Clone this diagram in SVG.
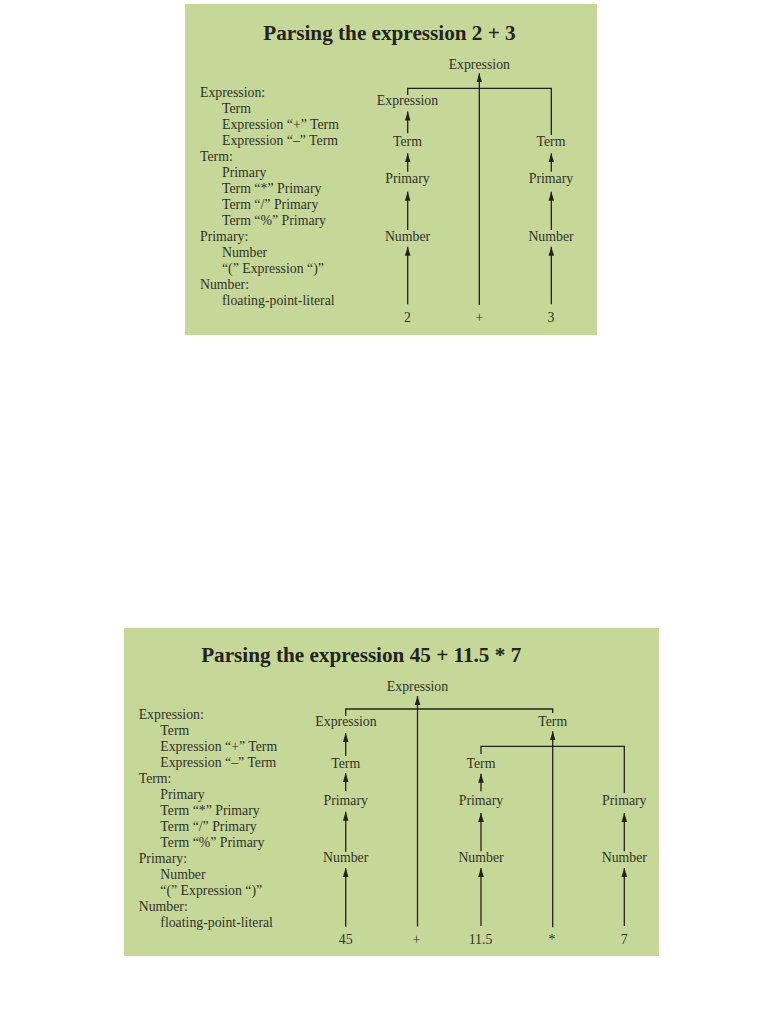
<svg xmlns="http://www.w3.org/2000/svg" width="782" height="1012" viewBox="0 0 782 1012">
<defs>
<style>
.panel{fill:#c6d898;}
.title{font-family:"Liberation Serif",serif;font-weight:bold;font-size:21.2px;fill:#232320;text-anchor:middle;}
.g{font-family:"Liberation Serif",serif;font-size:13.8px;fill:#30312a;}
.n{font-family:"Liberation Serif",serif;font-size:13.8px;fill:#30312a;text-anchor:middle;}
.c line,.c polyline{stroke:#222;stroke-width:1.3;fill:none;}
.c line.a{marker-end:url(#ah);}
</style>
<marker id="ah" markerUnits="userSpaceOnUse" markerWidth="10" markerHeight="7" refX="9" refY="3" orient="auto" viewBox="0 0 10 6">
<path d="M0,0.2 L9,3 L0,5.8 z" fill="#222"/>
</marker>
</defs>
<rect width="782" height="1012" fill="#ffffff"/>

<!-- ============ TOP PANEL ============ -->
<g id="panel1">
<rect class="panel" x="185" y="4" width="412" height="331"/>
<text class="title" x="389.5" y="40">Parsing the expression 2 + 3</text>
<g id="grammar1">
<text class="g" x="200" y="97.3">Expression:</text>
<text class="g" x="222" y="113.3">Term</text>
<text class="g" x="222" y="129.3">Expression “+” Term</text>
<text class="g" x="222" y="145.3">Expression “–” Term</text>
<text class="g" x="200" y="161.3">Term:</text>
<text class="g" x="222" y="177.3">Primary</text>
<text class="g" x="222" y="193.3">Term “*” Primary</text>
<text class="g" x="222" y="209.3">Term “/” Primary</text>
<text class="g" x="222" y="225.3">Term “%” Primary</text>
<text class="g" x="200" y="241.3">Primary:</text>
<text class="g" x="222" y="257.3">Number</text>
<text class="g" x="222" y="273.3">“(” Expression “)”</text>
<text class="g" x="200" y="289.3">Number:</text>
<text class="g" x="222" y="305.3">floating-point-literal</text>
</g>
<g id="t1-expr-root"><text class="n" x="479.3" y="69.3">Expression</text></g>
<g id="t1-expr"><text class="n" x="407.5" y="105">Expression</text></g>
<g id="t1-term-l"><text class="n" x="407.5" y="146">Term</text></g>
<g id="t1-term-r"><text class="n" x="551" y="146">Term</text></g>
<g id="t1-prim-l"><text class="n" x="407.5" y="183.3">Primary</text></g>
<g id="t1-prim-r"><text class="n" x="551" y="183.3">Primary</text></g>
<g id="t1-num-l"><text class="n" x="407.5" y="240.7">Number</text></g>
<g id="t1-num-r"><text class="n" x="551" y="240.7">Number</text></g>
<g id="t1-leaf-2"><text class="n" x="407.5" y="322.3">2</text></g>
<g id="t1-leaf-plus"><text class="n" x="479.3" y="322.3">+</text></g>
<g id="t1-leaf-3"><text class="n" x="551" y="322.3">3</text></g>
<g id="connectors1" class="c">
<line class="a" x1="479.3" y1="305" x2="479.3" y2="73.3"/>
<polyline points="407.7,95 407.7,88.3 551.3,88.3 551.3,135"/>
<line class="a" x1="407.7" y1="133.3" x2="407.7" y2="111.5"/>
<line class="a" x1="407.7" y1="171.7" x2="407.7" y2="153.3"/>
<line class="a" x1="407.7" y1="230" x2="407.7" y2="191.7"/>
<line class="a" x1="407.7" y1="304.3" x2="407.7" y2="246.7"/>
<line class="a" x1="551.3" y1="171.7" x2="551.3" y2="153.3"/>
<line class="a" x1="551.3" y1="230" x2="551.3" y2="191.7"/>
<line class="a" x1="551.3" y1="304.3" x2="551.3" y2="246.7"/>
</g>
</g>

<!-- ============ BOTTOM PANEL ============ -->
<g id="panel2">
<rect class="panel" x="124" y="628" width="535" height="328"/>
<text class="title" x="361.2" y="662.3">Parsing the expression 45 + 11.5 * 7</text>
<g id="grammar2">
<text class="g" x="138.7" y="718.7">Expression:</text>
<text class="g" x="160.3" y="734.7">Term</text>
<text class="g" x="160.3" y="750.7">Expression “+” Term</text>
<text class="g" x="160.3" y="766.7">Expression “–” Term</text>
<text class="g" x="138.7" y="782.7">Term:</text>
<text class="g" x="160.3" y="798.7">Primary</text>
<text class="g" x="160.3" y="814.7">Term “*” Primary</text>
<text class="g" x="160.3" y="830.7">Term “/” Primary</text>
<text class="g" x="160.3" y="846.7">Term “%” Primary</text>
<text class="g" x="138.7" y="862.7">Primary:</text>
<text class="g" x="160.3" y="878.7">Number</text>
<text class="g" x="160.3" y="894.7">“(” Expression “)”</text>
<text class="g" x="138.7" y="910.7">Number:</text>
<text class="g" x="160.3" y="926.7">floating-point-literal</text>
</g>
<g id="t2-expr-root"><text class="n" x="417.5" y="690.7">Expression</text></g>
<g id="t2-expr"><text class="n" x="346" y="726.3">Expression</text></g>
<g id="t2-term-top"><text class="n" x="552.7" y="726.3">Term</text></g>
<g id="t2-term-l"><text class="n" x="345.7" y="768">Term</text></g>
<g id="t2-term-m"><text class="n" x="481" y="768">Term</text></g>
<g id="t2-prim-l"><text class="n" x="345.7" y="804.7">Primary</text></g>
<g id="t2-prim-m"><text class="n" x="481" y="804.7">Primary</text></g>
<g id="t2-prim-r"><text class="n" x="624.3" y="804.7">Primary</text></g>
<g id="t2-num-l"><text class="n" x="345.7" y="862.3">Number</text></g>
<g id="t2-num-m"><text class="n" x="481" y="862.3">Number</text></g>
<g id="t2-num-r"><text class="n" x="624.3" y="862.3">Number</text></g>
<g id="t2-leaf-45"><text class="n" x="345.7" y="943.7">45</text></g>
<g id="t2-leaf-plus"><text class="n" x="416.5" y="943.7">+</text></g>
<g id="t2-leaf-115"><text class="n" x="480.5" y="943.7">11.5</text></g>
<g id="t2-leaf-star"><text class="n" x="552" y="943.7">*</text></g>
<g id="t2-leaf-7"><text class="n" x="624.3" y="943.7">7</text></g>
<g id="connectors2" class="c">
<line class="a" x1="417.5" y1="926.5" x2="417.5" y2="696"/>
<polyline points="345.7,716 345.7,709 552.7,709 552.7,713"/>
<line class="a" x1="345.7" y1="756" x2="345.7" y2="733"/>
<line class="a" x1="345.7" y1="791" x2="345.7" y2="773"/>
<line class="a" x1="345.7" y1="851.7" x2="345.7" y2="811.7"/>
<line class="a" x1="345.7" y1="926.7" x2="345.7" y2="868"/>
<line class="a" x1="552.7" y1="927.3" x2="552.7" y2="731.3"/>
<polyline points="481,754 481,746.3 624.3,746.3 624.3,793"/>
<line class="a" x1="481" y1="791.3" x2="481" y2="773.7"/>
<line class="a" x1="481" y1="851.3" x2="481" y2="813"/>
<line class="a" x1="481" y1="926" x2="481" y2="868"/>
<line class="a" x1="624.3" y1="851.3" x2="624.3" y2="813"/>
<line class="a" x1="624.3" y1="926" x2="624.3" y2="868"/>
</g>
</g>
</svg>
